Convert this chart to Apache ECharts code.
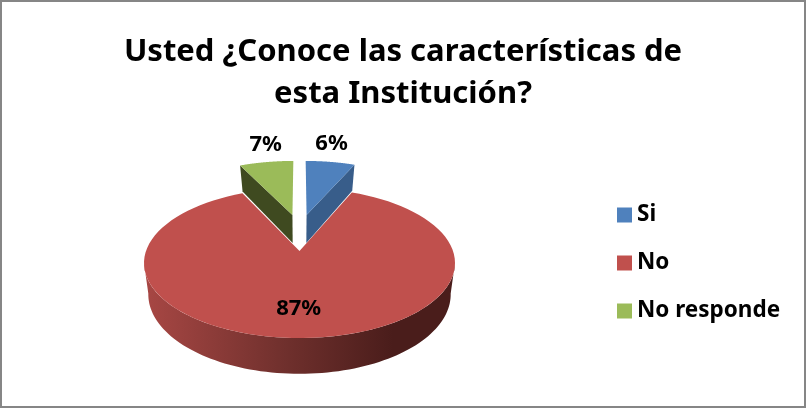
<!DOCTYPE html>
<html><head><meta charset="utf-8">
<style>html,body{margin:0;padding:0;background:#fff}#c{width:806px;height:409px}</style>
<script src="https://cdn.jsdelivr.net/npm/echarts@6/dist/echarts.min.js"></script>
</head><body><div id="c"></div>
<script>
var titleLines = ['Usted ¿Conoce las características de', 'esta Institución?'];
var categories = ['Si', 'No', 'No responde'];
var values = [6.4, 86.6, 7];
var faceColors = ['#4F81BD', '#C0504D', '#9BBB59'];
var wallColors = ['#385D8A', '#8A3A37', '#3F4A20'];
// Exploded offset of every slice on the pie plane, and placement of its label
var explode = [[0.05, 0.535], [0, 0], [-0.05, 0.535]];
var labelRadius = [1.26, 0.66, 1.26];
var labelNudge = [[-4, -6], [-3, 4], [5, -6]];
// Perspective of the top (z=0) and bottom (z=1) planes
var cx = 299.5;
var planes = [{y0: 251, a: 73.08, b: 0.16, A: 153.5}, {y0: 280.8, a: 77.2, b: 0.17, A: 149}];
var FONT = '"Noto Sans"';

function project(u, v, z) {
  var p = planes[z], d = 1 + p.b * v;
  return [cx + p.A * u / d, p.y0 - p.a * v / d];
}
var total = values.reduce(function (s, x) { return s + x; }, 0);
function sliceAngles(i) {
  var start = 0;
  for (var k = 0; k < i; k++) start += values[k];
  return [start / total * 2 * Math.PI, (start + values[i]) / total * 2 * Math.PI];
}
function arc(a0, a1, off, z) {
  var pts = [], n = 90;
  for (var k = 0; k <= n; k++) {
    var t = a0 + (a1 - a0) * k / n;
    pts.push(project(off[0] + Math.sin(t), off[1] + Math.cos(t), z));
  }
  return pts;
}
function poly(points, fill, z2) {
  return {type: 'polygon', z2: z2, shape: {points: points}, style: {fill: fill, stroke: null}};
}
function renderSlice(params, api) {
  var i = api.value(0);
  var ang = sliceAngles(i), off = explode[i], kids = [];
  var apexT = project(off[0], off[1], 0), apexB = project(off[0], off[1], 1);
  if (i === 1) {
    var s = Math.PI / 2 + 0.16, e = 3 * Math.PI / 2 - 0.16;
    var wall = arc(s, e, off, 0).concat(arc(s, e, off, 1).reverse());
    var grad = new echarts.graphic.LinearGradient(0, 0, 1, 0, [
      {offset: 0, color: '#A84744'}, {offset: 0.45, color: '#70302D'},
      {offset: 0.8, color: '#4A1D1B'}, {offset: 1, color: '#4A1D1B'}]);
    kids.push(poly(wall, grad, 1));
  } else {
    var edgeA = i === 0 ? ang[1] : ang[0];
    var oT = project(off[0] + Math.sin(edgeA), off[1] + Math.cos(edgeA), 0);
    var oB = project(off[0] + Math.sin(edgeA), off[1] + Math.cos(edgeA), 1);
    kids.push(poly([apexT, oT, oB, apexB], wallColors[i], 1));
  }
  kids.push(poly([apexT].concat(arc(ang[0], ang[1], off, 0)), faceColors[i], 2));
  var mid = (ang[0] + ang[1]) / 2, r = labelRadius[i];
  var lp = project(off[0] + r * Math.sin(mid), off[1] + r * Math.cos(mid), 0);
  kids.push({type: 'text', z2: 5, x: lp[0] + labelNudge[i][0], y: lp[1] + labelNudge[i][1], style: {
    text: Math.round(values[i] / total * 100) + '%', x: 0, y: 0, align: 'center', verticalAlign: 'middle',
    fill: '#000', font: 'bold 22px ' + FONT}});
  return {type: 'group', children: kids};
}
var chart = echarts.init(document.getElementById('c'), null, {renderer: 'canvas'});
chart.setOption({
  animation: false,
  backgroundColor: '#fff',
  color: faceColors,
  title: {
    text: titleLines.join('\n'), left: 398, textAlign: 'center', top: 26,
    textStyle: {fontFamily: 'Noto Sans', fontWeight: 'bold', fontSize: 31, lineHeight: 42, color: '#000'}
  },
  legend: {
    orient: 'vertical', left: 617, top: 200, padding: 0, itemWidth: 15, itemHeight: 15, itemGap: 18,
    icon: 'rect', data: categories,
    textStyle: {fontFamily: 'Noto Sans', fontWeight: 'bold', fontSize: 22.5, lineHeight: 30, color: '#000', padding: [0, 0, 0, 0]}
  },
  graphic: [{type: 'rect', silent: true, z: 100, shape: {x: 1, y: 1, width: 804, height: 406},
    style: {fill: null, stroke: '#868686', lineWidth: 2}}],
  series: categories.map(function (name, i) {
    return {type: 'custom', name: name, coordinateSystem: 'none', renderItem: renderSlice,
      itemStyle: {color: faceColors[i]}, data: [[i, values[i]]], silent: true};
  })
});
</script></body></html>
